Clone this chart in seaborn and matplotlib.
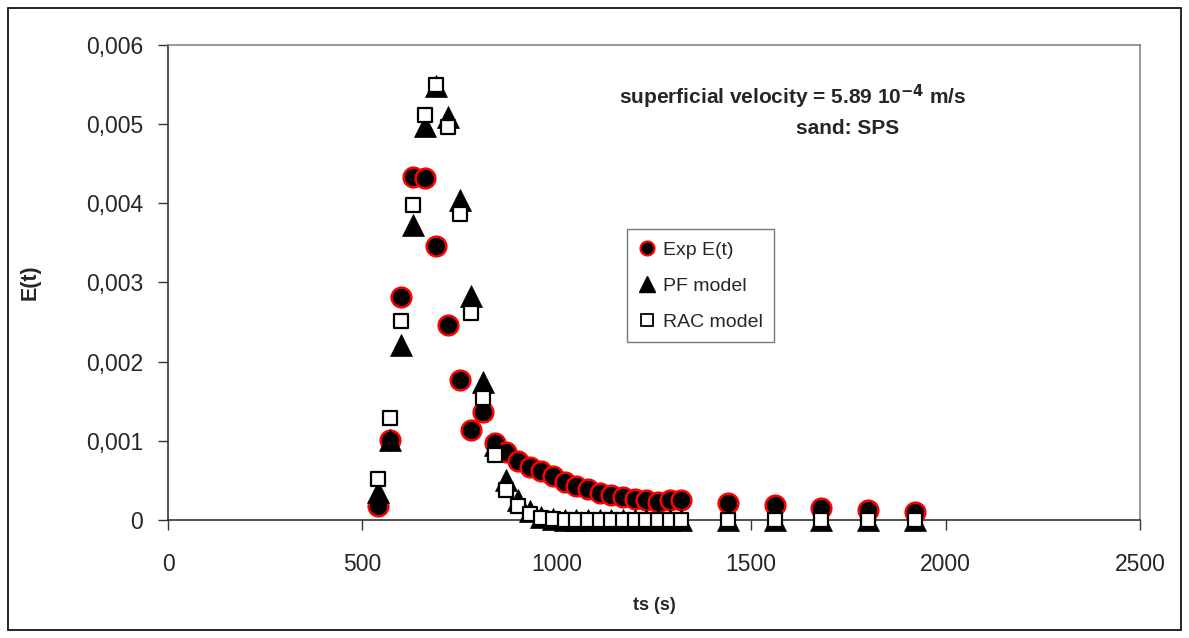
import matplotlib
matplotlib.use("Agg")
import matplotlib.pyplot as plt
import seaborn as sns
import pandas as pd
from matplotlib.patches import Rectangle
from matplotlib.lines import Line2D
from matplotlib.ticker import FuncFormatter

# ---------------- data ----------------
t_exp = [540, 570, 600, 630, 660, 690, 720, 750, 780, 810, 840, 870, 900, 930, 960,
         990, 1020, 1050, 1080, 1110, 1140, 1170, 1200, 1230, 1260, 1290, 1320,
         1440, 1560, 1680, 1800, 1920]
e_exp = [0.00018, 0.00101, 0.00282, 0.00433, 0.00432, 0.00346, 0.00246, 0.00177,
         0.00114, 0.00136, 0.00097, 0.00086, 0.00075, 0.00067, 0.00062, 0.00056,
         0.00048, 0.00043, 0.00039, 0.00034, 0.00032, 0.00029, 0.00027, 0.00025,
         0.00023, 0.00025, 0.00025, 0.00021, 0.00019, 0.00015, 0.00013, 0.00010]
e_pf = [0.00035, 0.00101, 0.00221, 0.00373, 0.00498, 0.00548, 0.00509, 0.00404,
        0.00283, 0.00174, 0.00095, 0.00050, 0.00025, 0.00011, 0.00004, 0.00001,
        0, 0, 0, 0, 0, 0, 0, 0, 0, 0, 0, 0, 0, 0, 0, 0]
e_rac = [0.00052, 0.00129, 0.00251, 0.00398, 0.00512, 0.00549, 0.00496, 0.00386,
         0.00261, 0.00154, 0.00082, 0.00038, 0.00018, 0.00008, 0.00003, 0.00001,
         0, 0, 0, 0, 0, 0, 0, 0, 0, 0, 0, 0, 0, 0, 0, 0]
series_names = ["Exp E(t)", "PF model", "RAC model"]
x_ticks = [0, 500, 1000, 1500, 2000, 2500]
y_ticks = [0, 0.001, 0.002, 0.003, 0.004, 0.005, 0.006]

df = pd.DataFrame({"t": t_exp, "exp": e_exp, "pf": e_pf, "rac": e_rac})

# ---------------- style ----------------
sns.set_style("white")
plt.rcParams["font.family"] = ["Liberation Sans", "DejaVu Sans"]
plt.rcParams["mathtext.default"] = "regular"

fig = plt.figure(figsize=(11.89, 6.38), dpi=100)
ax = fig.add_axes([0.1413, 0.185, 0.8175, 0.7445])

# outer chart border
fig.patches.append(Rectangle((0.007, 0.012), 0.986, 0.976, transform=fig.transFigure,
                             fill=False, edgecolor="#000000", linewidth=1.2))

sns.scatterplot(data=df, x="t", y="exp", ax=ax, marker="o", s=200,
                color="black", edgecolor="#ff0000", linewidth=1.8,
                clip_on=False, zorder=4, legend=False)
sns.scatterplot(data=df, x="t", y="pf", ax=ax, marker="^", s=250,
                color="black", edgecolor="black", linewidth=0.5,
                clip_on=False, zorder=5, legend=False)
sns.scatterplot(data=df, x="t", y="rac", ax=ax, marker="s", s=110,
                color="white", edgecolor="black", linewidth=1.6,
                clip_on=False, zorder=6, legend=False)

ax.set_xlim(0, 2500)
ax.set_ylim(0, 0.006)
ax.set_xticks(x_ticks)
ax.set_yticks(y_ticks)
ax.yaxis.set_major_formatter(FuncFormatter(
    lambda v, p: "0" if v == 0 else f"{v:.3f}".replace(".", ",")))
ax.xaxis.set_major_formatter(FuncFormatter(lambda v, p: f"{int(v)}"))
ax.tick_params(axis="both", direction="out", length=7, width=1, color="#333333",
               labelsize=16.5, bottom=True, left=True)
ax.tick_params(axis="y", pad=11)
ax.tick_params(axis="x", pad=17)

for side in ["left", "bottom"]:
    ax.spines[side].set_color("#333333")
    ax.spines[side].set_linewidth(1.2)
for side in ["top", "right"]:
    ax.spines[side].set_visible(True)
    ax.spines[side].set_color("#888888")
    ax.spines[side].set_linewidth(1.2)

ax.set_xlabel("ts (s)", fontsize=13, fontweight="bold")
ax.set_ylabel("E(t)", fontsize=15.5, fontweight="bold")
ax.xaxis.set_label_coords(0.5, -0.181)
ax.xaxis.label.set_verticalalignment("center")
ax.yaxis.set_label_coords(-0.142, 0.5)
ax.yaxis.label.set_verticalalignment("center")

ax.text(0.643, 0.89, r"superficial velocity = 5.89 10$^{\mathbf{-4}}$ m/s", transform=ax.transAxes,
        fontsize=15, fontweight="bold", ha="center", va="center")
ax.text(0.699, 0.825, "sand: SPS", transform=ax.transAxes,
        fontsize=15, fontweight="bold", ha="center", va="center")

handles = [
    Line2D([], [], linestyle="none", marker="o", markersize=10, markerfacecolor="black",
           markeredgecolor="#ff0000", markeredgewidth=1.6),
    Line2D([], [], linestyle="none", marker="^", markersize=12, markerfacecolor="black",
           markeredgecolor="black"),
    Line2D([], [], linestyle="none", marker="s", markersize=8.5, markerfacecolor="white",
           markeredgecolor="black", markeredgewidth=1.3),
]
leg = ax.legend(handles, series_names, loc="upper left", bbox_to_anchor=(0.472, 0.612),
                frameon=True, fancybox=False, fontsize=14, handlelength=0.9,
                handletextpad=0.35, labelspacing=0.95, borderpad=0.6, borderaxespad=0)
leg.get_frame().set_edgecolor("#555555")
leg.get_frame().set_linewidth(1.0)

fig.savefig("out.png", dpi=100)
